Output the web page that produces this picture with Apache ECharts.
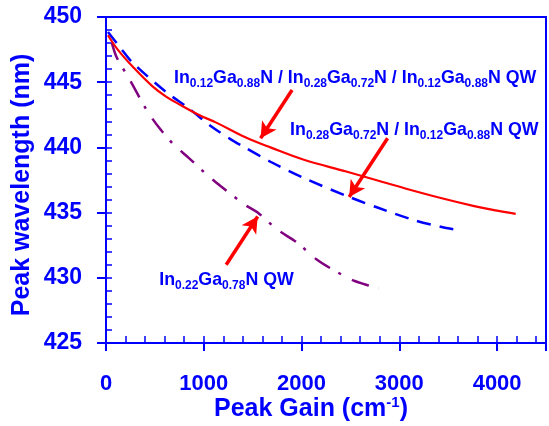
<!DOCTYPE html>
<html><head><meta charset="utf-8">
<script src="https://cdn.jsdelivr.net/npm/echarts@6/dist/echarts.min.js"></script>
<style>html,body{margin:0;padding:0;background:#fff}#c{width:549px;height:426px}</style>
</head><body><div id="c"></div>
<script>
// ---- tick labels ----
const xTickLabels = [0, 1000, 2000, 3000, 4000];
const yTickLabels = [425, 430, 435, 440, 445, 450];

// ---- series: In0.12Ga0.88N / In0.28Ga0.72N / In0.12Ga0.88N QW (red solid) ----
const redGain = [20, 120, 272, 473, 614, 775, 947, 1128, 1420, 1682, 2024, 2457, 2760, 3061, 3434, 3766, 4000, 4190];
const redWave = [448.6, 447.5, 446.2, 444.7, 443.9, 443.2, 442.5, 441.9, 440.8, 440.0, 439.05, 438.15, 437.5, 436.85, 436.1, 435.5, 435.15, 434.9];

// ---- series: In0.28Ga0.72N / In0.12Ga0.88N QW (blue dashed) ----
const blueGain = [20, 141, 272, 614, 846, 1078, 1280, 1420, 1682, 2024, 2487, 2790, 3162, 3434, 3575];
const blueWave = [448.85, 447.7, 446.5, 444.25, 443.0, 441.6, 440.6, 440.0, 438.9, 437.65, 436.2, 435.35, 434.4, 433.9, 433.7];

// ---- series: In0.22Ga0.78N QW (purple dash-dot) ----
const purpleGain = [60, 110, 242, 413, 544, 695, 846, 1047, 1178, 1420, 1551, 1752, 1954, 2155, 2326, 2528, 2689, 2790];
const purpleWave = [448.0, 446.9, 445.2, 442.9, 441.5, 440.2, 439.2, 437.8, 437.0, 435.6, 435.0, 433.7, 432.7, 431.4, 430.6, 429.8, 429.4, 429.2];

// ---- annotations (data coordinates) ----
const arrowFrom = [[1903, 444.4], [2880, 440.7], [1229, 431.0]];
const arrowTo   = [[1581, 440.7], [2487, 436.2], [1551, 434.7]];
const labelAt   = [[695, 445.32], [1883, 441.33], [544, 429.85]];
const labelText = [
  '{m|In}{s|0.12}{m|Ga}{s|0.88}{m|N / In}{s|0.28}{m|Ga}{s|0.72}{m|N / In}{s|0.12}{m|Ga}{s|0.88}{m|N QW}',
  '{m|In}{s|0.28}{m|Ga}{s|0.72}{m|N / In}{s|0.12}{m|Ga}{s|0.88}{m|N QW}',
  '{m|In}{s|0.22}{m|Ga}{s|0.78}{m|N QW}'
];

const BLUE = '#0000ff';
const FONT = '"Liberation Sans", Arial, sans-serif';
const chart = echarts.init(document.getElementById('c'), null, {renderer: 'canvas'});
const pair = (g, w) => g.map((v, i) => [v, w[i]]);
const xMin = xTickLabels[0], xMax = 4500, xStep = xTickLabels[1] - xTickLabels[0];
const yMin = yTickLabels[0], yMax = yTickLabels[yTickLabels.length - 1], yStep = yTickLabels[1] - yTickLabels[0];

chart.setOption({
  animation: false,
  grid: {left: 106, top: 17, right: -4, bottom: 83, show: true, borderColor: BLUE, borderWidth: 2, backgroundColor: 'transparent'},
  xAxis: [
    {type: 'value', min: xMin, max: xMax, interval: xStep, position: 'bottom',
     axisLine: {lineStyle: {color: BLUE, width: 2}},
     axisTick: {length: 8, lineStyle: {color: BLUE, width: 2}},
     axisLabel: {color: BLUE, fontSize: 22, fontWeight: 'bold', fontFamily: FONT, margin: 30,
                 formatter: v => xTickLabels.includes(v) ? String(v) : ''},
     splitLine: {show: false}},
    {type: 'value', min: xMin, max: xMax, interval: 200, position: 'bottom',
     axisLine: {show: false}, axisTick: {inside: true, length: 7, lineStyle: {color: BLUE, width: 1.5}},
     axisLabel: {show: false}, splitLine: {show: false}}
  ],
  yAxis: [
    {type: 'value', min: yMin, max: yMax, interval: yStep, position: 'left',
     axisLine: {show: true, lineStyle: {color: BLUE, width: 2}},
     axisTick: {show: true, length: 9, lineStyle: {color: BLUE, width: 2}},
     axisLabel: {color: BLUE, fontSize: 23, fontWeight: 'bold', fontFamily: FONT, margin: 24,
                 formatter: v => yTickLabels.includes(v) ? String(v) : ''},
     splitLine: {show: false}},
    {type: 'value', min: yMin, max: yMax, interval: 1, position: 'left',
     axisLine: {show: false}, axisTick: {show: true, inside: true, length: 6, lineStyle: {color: BLUE, width: 1.5}},
     axisLabel: {show: false}, splitLine: {show: false}}
  ],
  series: [
    {type: 'line', data: pair(purpleGain, purpleWave), smooth: 0.3, symbol: 'none', z: 2,
     lineStyle: {color: '#800080', width: 2.5, type: [18, 10, 3, 12]}},
    {type: 'line', data: pair(blueGain, blueWave), smooth: 0.3, symbol: 'none', z: 3,
     lineStyle: {color: BLUE, width: 2.5, type: [14, 9]}},
    {type: 'line', data: pair(redGain, redWave), smooth: 0.4, symbol: 'none', z: 4,
     lineStyle: {color: '#ff0000', width: 2.2},
     markLine: {silent: true, symbol: ['none', 'arrow'], symbolSize: [13, 16], label: {show: false},
       lineStyle: {color: '#ff0000', width: 3.5, type: 'solid'}, emphasis: {disabled: true},
       data: arrowFrom.map((f, i) => [{coord: f}, {coord: arrowTo[i]}])}}
  ]
});

const labelRich = {
  m: {fontSize: 17.8, fontWeight: 'bold', fontFamily: FONT, fill: BLUE, lineHeight: 20},
  s: {fontSize: 12, fontWeight: 'bold', fontFamily: FONT, fill: BLUE, lineHeight: 12, padding: [12, 0, 0, 0]}
};
const graphics = labelAt.map((p, i) => {
  const px = chart.convertToPixel({xAxisIndex: 0, yAxisIndex: 0}, p);
  return {type: 'text', x: px[0], y: px[1], z: 100,
    style: {text: labelText[i], rich: labelRich, fill: BLUE, align: 'left', verticalAlign: 'middle'}};
});
graphics.push({type: 'text', x: 311, y: 409, z: 100,
  style: {text: '{m|Peak Gain (cm}{p|-1}{m|)}', align: 'center', verticalAlign: 'middle', fill: BLUE,
    rich: {m: {fontSize: 25, fontWeight: 'bold', fontFamily: FONT, fill: BLUE, lineHeight: 25},
           p: {fontSize: 15, fontWeight: 'bold', fontFamily: FONT, fill: BLUE, lineHeight: 15, padding: [0, 0, 12, 0]}}}});
graphics.push({type: 'text', x: 22, y: 185, rotation: Math.PI / 2, z: 100,
  style: {text: 'Peak wavelength (nm)', align: 'center', verticalAlign: 'middle', fill: BLUE,
    font: 'bold 25px ' + FONT}});
chart.setOption({graphic: graphics});
</script></body></html>
